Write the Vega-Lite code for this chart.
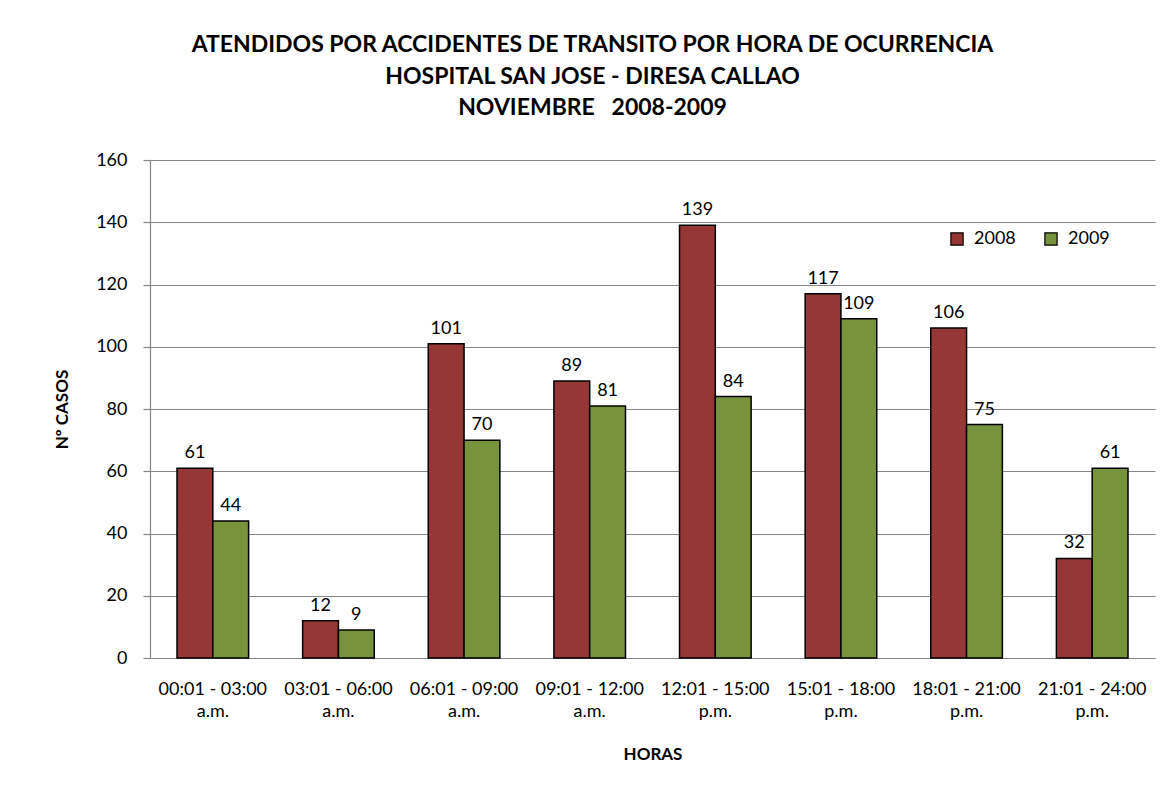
{
  "$schema": "https://vega.github.io/schema/vega-lite/v6.json",
  "width": 1005,
  "height": 498,
  "autosize": {"type": "none"},
  "padding": {"left": 150, "top": 160, "right": 19, "bottom": 154},
  "background": "white",
  "title": {
    "text": ["ATENDIDOS POR ACCIDENTES DE TRANSITO POR HORA DE OCURRENCIA", "HOSPITAL SAN JOSE - DIRESA CALLAO", "NOVIEMBRE\u00a0\u00a0 2008-2009"],
    "font": "Lato",
    "fontSize": 23,
    "fontWeight": "bold",
    "color": "black",
    "anchor": "middle",
    "dx": -60,
    "offset": 31,
    "lineHeight": 31.5
  },
  "data": {
    "values": [
      {"horas": "00:01 - 03:00|a.m.", "anio": "2008", "casos": 61},
      {"horas": "00:01 - 03:00|a.m.", "anio": "2009", "casos": 44},
      {"horas": "03:01 - 06:00|a.m.", "anio": "2008", "casos": 12},
      {"horas": "03:01 - 06:00|a.m.", "anio": "2009", "casos": 9},
      {"horas": "06:01 - 09:00|a.m.", "anio": "2008", "casos": 101},
      {"horas": "06:01 - 09:00|a.m.", "anio": "2009", "casos": 70},
      {"horas": "09:01 - 12:00|a.m.", "anio": "2008", "casos": 89},
      {"horas": "09:01 - 12:00|a.m.", "anio": "2009", "casos": 81},
      {"horas": "12:01 - 15:00|p.m.", "anio": "2008", "casos": 139},
      {"horas": "12:01 - 15:00|p.m.", "anio": "2009", "casos": 84},
      {"horas": "15:01 - 18:00|p.m.", "anio": "2008", "casos": 117},
      {"horas": "15:01 - 18:00|p.m.", "anio": "2009", "casos": 109},
      {"horas": "18:01 - 21:00|p.m.", "anio": "2008", "casos": 106},
      {"horas": "18:01 - 21:00|p.m.", "anio": "2009", "casos": 75},
      {"horas": "21:01 - 24:00|p.m.", "anio": "2008", "casos": 32},
      {"horas": "21:01 - 24:00|p.m.", "anio": "2009", "casos": 61}
    ]
  },
  "encoding": {
    "x": {
      "field": "horas",
      "type": "nominal",
      "sort": null,
      "scale": {"paddingInner": 0.43, "paddingOuter": 0.215},
      "axis": {
        "title": "HORAS",
        "labelAngle": 0,
        "labelExpr": "split(datum.value, '|')",
        "labelLineHeight": 22,
        "labelPadding": 22,
        "ticks": false,
        "grid": false,
        "titlePadding": 26
      }
    },
    "xOffset": {"field": "anio", "type": "nominal", "scale": {"paddingInner": 0, "paddingOuter": 0}},
    "y": {
      "field": "casos",
      "type": "quantitative",
      "scale": {"domain": [0, 160], "nice": false},
      "axis": {
        "title": "Nº CASOS",
        "values": [0, 20, 40, 60, 80, 100, 120, 140, 160],
        "grid": true,
        "tickSize": 7,
        "labelPadding": 16,
        "titlePadding": 24
      }
    }
  },
  "layer": [
    {
      "mark": {"type": "bar", "stroke": "black", "strokeWidth": 1.5},
      "encoding": {
        "color": {
          "field": "anio",
          "type": "nominal",
          "scale": {"domain": ["2008", "2009"], "range": ["#953735", "#77933C"]},
          "legend": {
            "orient": "none",
            "legendX": 798,
            "legendY": 70,
            "direction": "horizontal",
            "title": null,
            "symbolType": "square",
            "symbolSize": 150,
            "symbolStrokeColor": "black",
            "symbolStrokeWidth": 1.2,
            "labelFont": "Lato",
            "labelFontSize": 18,
            "labelColor": "black",
            "labelOffset": 8,
            "columnPadding": 26
          }
        }
      }
    },
    {
      "mark": {"type": "text", "baseline": "bottom", "dy": -6, "font": "Lato", "fontSize": 18, "color": "black"},
      "encoding": {
        "text": {"field": "casos", "type": "quantitative"}
      }
    }
  ],
  "config": {
    "view": {"stroke": null},
    "axis": {
      "labelFont": "Lato",
      "labelFontSize": 18,
      "labelColor": "black",
      "titleFont": "Lato",
      "titleFontSize": 17,
      "titleFontWeight": "bold",
      "titleColor": "black",
      "domainColor": "#868686",
      "domainWidth": 1.2,
      "gridColor": "#868686",
      "gridWidth": 1.2,
      "tickColor": "#868686",
      "tickWidth": 1.2
    }
  }
}
